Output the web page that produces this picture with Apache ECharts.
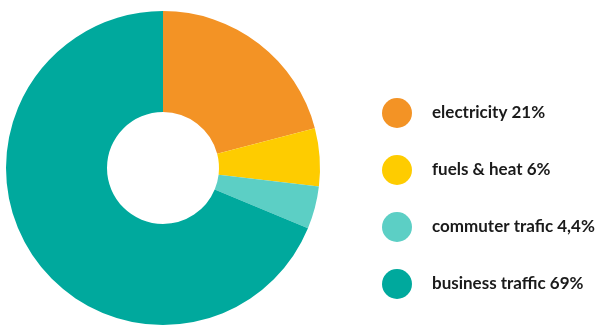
<!DOCTYPE html>
<html><head><meta charset="utf-8">
<script src="https://cdn.jsdelivr.net/npm/echarts@6/dist/echarts.min.js"></script>
<style>html,body{margin:0;padding:0;background:#fff}#c{width:600px;height:325px}</style>
</head><body><div id="c"></div>
<script>
const categories = ['electricity 21%', 'fuels & heat 6%', 'commuter trafic 4,4%', 'business traffic 69%'];
const values = [21, 6, 4.4, 69];
const colors = ['#F39325', '#FECC00', '#5CCFC5', '#00A99D'];

const chart = echarts.init(document.getElementById('c'), null, {renderer: 'canvas'});
chart.setOption({
  animation: false,
  color: colors,
  legend: {
    orient: 'vertical',
    left: 382, top: 98,
    padding: 0,
    icon: 'circle',
    itemWidth: 30, itemHeight: 30, itemGap: 27,
    selectedMode: false,
    textStyle: {fontFamily: 'Lato', fontWeight: 'bold', fontSize: 17, color: '#1a1a1a', padding: [0,0,0,15]},
    data: categories
  },
  series: [{
    type: 'pie',
    center: [163, 168],
    radius: [56, 157],
    startAngle: 90,
    clockwise: true,
    label: {show: false},
    labelLine: {show: false},
    emphasis: {disabled: true},
    itemStyle: {borderWidth: 0},
    data: categories.map((n, i) => ({name: n, value: values[i]}))
  }]
});
</script></body></html>
